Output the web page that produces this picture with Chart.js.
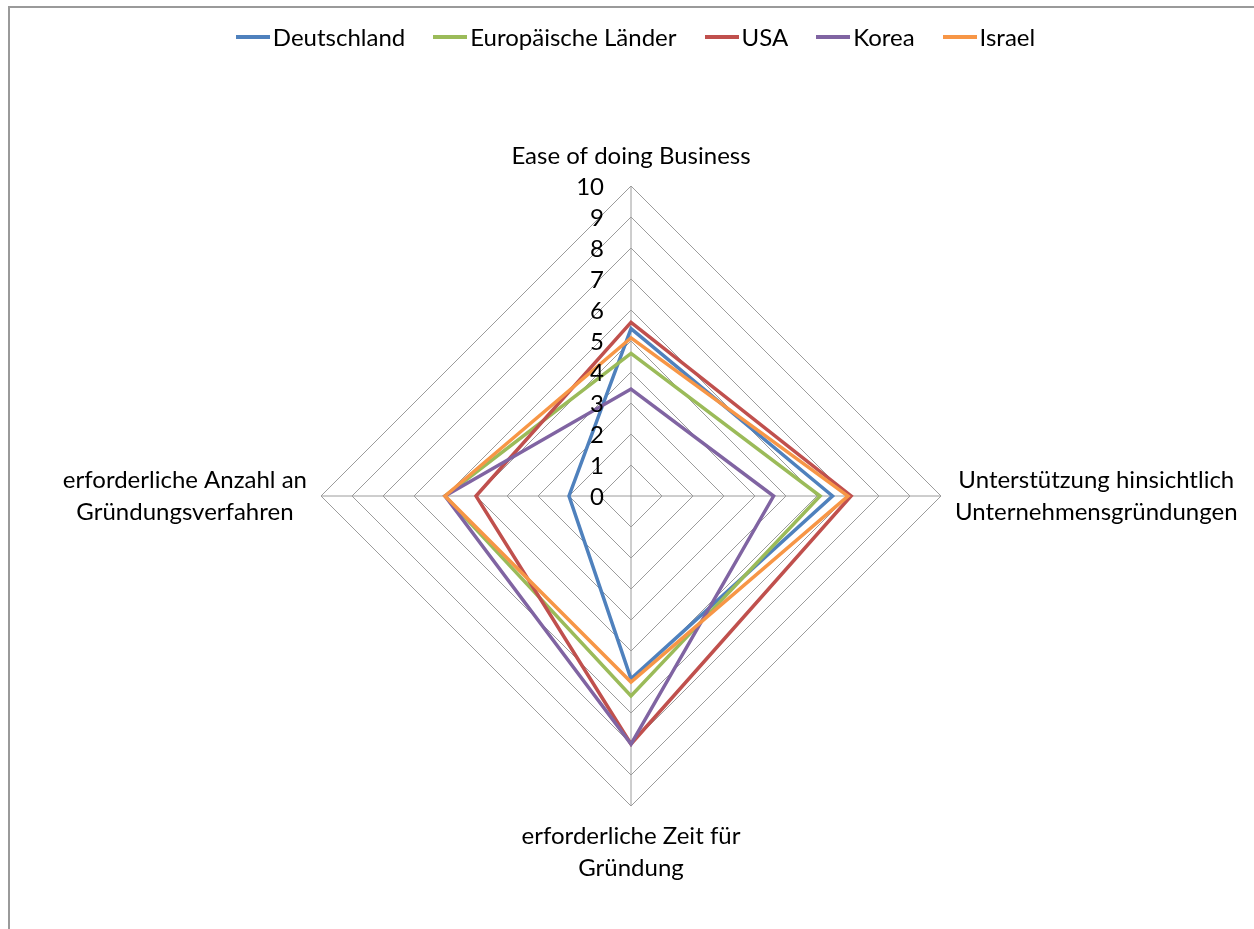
<!DOCTYPE html>
<html>
<head>
<meta charset="utf-8">
<script src="https://cdn.jsdelivr.net/npm/chart.js@4.4.1/dist/chart.umd.min.js"></script>
<style>
  html, body { margin: 0; padding: 0; background: #fff; overflow: hidden; }
  #wrap { position: relative; width: 1254px; height: 929px; overflow: hidden; }
  #frame { position: absolute; left: 8px; top: 6px; width: 1300px; height: 1000px; border: 2px solid #9a9a9a; box-sizing: border-box; }
  canvas { position: absolute; left: 0; top: 0; }
  #legend { position: absolute; left: 0; top: 21px; width: 1254px; padding-left: 17px; box-sizing: border-box;
            display: flex; justify-content: center; gap: 28px; font: 24px Lato, sans-serif; line-height: 32px; color: #000; }
  .item { display: flex; align-items: center; }
  .swatch { display: inline-block; width: 34px; height: 4px; margin-right: 3px; }
</style>
</head>
<body>
<div id="wrap">
  <div id="frame"></div>
  <canvas id="radar" width="1254" height="929"></canvas>
  <div id="legend"></div>
</div>
<script>
const categories = [
  ['Ease of doing Business'],
  ['Unterstützung hinsichtlich', 'Unternehmensgründungen'],
  ['erforderliche Zeit für', 'Gründung'],
  ['erforderliche Anzahl an', 'Gründungsverfahren'],
];
const seriesNames  = ['Deutschland', 'Europäische Länder', 'USA', 'Korea', 'Israel'];
const seriesColors = ['#4F81BD', '#9BBB59', '#C0504D', '#8064A2', '#F79646'];

const deutschland = [5.4, 6.5, 5.9, 2.0];
const europa      = [4.6, 6.1, 6.45, 6.0];
const usa         = [5.6, 7.1, 8.0, 5.0];
const korea       = [3.45, 4.6, 8.0, 6.0];
const israel      = [5.1, 7.0, 6.0, 6.0];
const seriesValues = [deutschland, europa, usa, korea, israel];

const scaleMin = 0, scaleMax = 10, scaleStep = 1;

const FONT = 'Lato, "Open Sans", sans-serif';
const TEXT = '#000';
const GRID = '#9c9c9c';

// html legend above the chart
const legendEl = document.getElementById('legend');
seriesNames.forEach((name, i) => {
  const item = document.createElement('span');
  item.className = 'item';
  const sw = document.createElement('span');
  sw.className = 'swatch';
  sw.style.background = seriesColors[i];
  item.appendChild(sw);
  item.appendChild(document.createTextNode(name));
  legendEl.appendChild(item);
});

// tick numbers left of the vertical axis + category labels around the web
const radarText = {
  id: 'radarText',
  afterDraw(chart) {
    const r = chart.scales.r;
    const ctx = chart.ctx;
    ctx.save();
    ctx.font = `24px ${FONT}`;
    ctx.fillStyle = TEXT;
    ctx.textBaseline = 'middle';

    ctx.textAlign = 'right';
    r.ticks.forEach((t) => {
      const p = r.getPointPositionForValue(0, t.value);
      ctx.fillText(String(t.value), p.x - 27, p.y + 1);
    });

    ctx.textAlign = 'center';
    const lh = 32.4;
    categories.forEach((lines, i) => {
      const p = r.getPointPosition(i, r.drawingArea + 14);
      const dx = p.x - r.xCenter, dy = p.y - r.yCenter;
      const w = Math.max(...lines.map((l) => ctx.measureText(l).width));
      const h = lines.length * lh;
      let cx = p.x, top = p.y - h / 2;
      if (dx > 1) cx = p.x + w / 2;
      if (dx < -1) cx = p.x - w / 2;
      if (dy < -1) top = p.y - h;
      if (dy > 1) top = p.y;
      lines.forEach((l, j) => ctx.fillText(l, cx, top + lh * (j + 0.5)));
    });
    ctx.restore();
  },
};

function draw() {
  new Chart(document.getElementById('radar'), {
    type: 'radar',
    data: {
      labels: categories,
      datasets: seriesValues.map((data, i) => ({
        label: seriesNames[i],
        data,
        borderColor: seriesColors[i],
        backgroundColor: seriesColors[i],
        borderWidth: 3.5,
        pointRadius: 0,
        pointHoverRadius: 0,
        fill: false,
        tension: 0,
        order: seriesValues.length - 1 - i, // last series on top, like Excel
      })),
    },
    options: {
      responsive: false,
      animation: false,
      layout: { padding: { left: 321, right: 313, top: 63, bottom: 0 } },
      plugins: { legend: { display: false }, tooltip: { enabled: false } },
      scales: {
        r: {
          min: scaleMin,
          max: scaleMax,
          ticks: { stepSize: scaleStep, display: false },
          grid: { color: GRID, lineWidth: 1 },
          angleLines: { color: GRID, lineWidth: 1 },
          pointLabels: { display: false },
        },
      },
    },
    plugins: [radarText],
  });
}

document.fonts.load(`24px ${FONT}`).then(draw, draw);
</script>
</body>
</html>
